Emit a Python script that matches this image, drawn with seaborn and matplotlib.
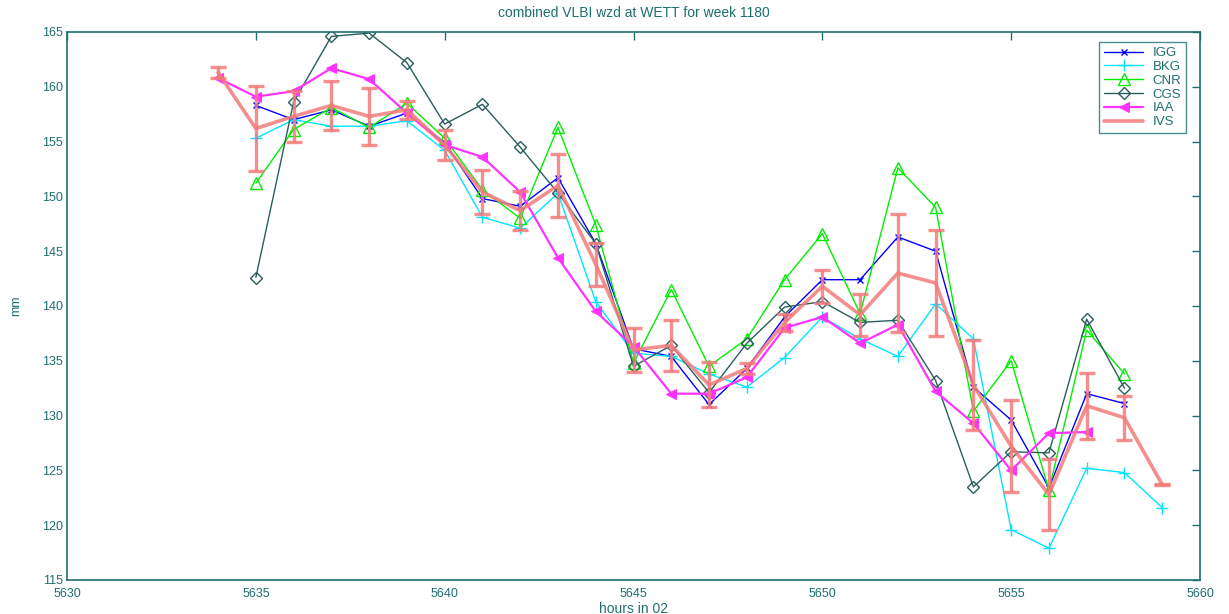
import numpy as np
import pandas as pd
import matplotlib
matplotlib.use("Agg")
import matplotlib.pyplot as plt
import seaborn as sns

# ---------------- data ----------------
hours_ivs = list(range(5634, 5660))
ivs = [161.3, 156.2, 157.3, 158.3, 157.3, 157.9, 154.7, 150.4, 148.7, 151.0,
       143.8, 136.0, 136.4, 132.8, 134.3, 138.5, 141.8, 139.2, 143.0, 142.1,
       132.8, 127.2, 122.8, 130.9, 129.8, 123.7]
ivs_err = [0.5, 3.9, 2.3, 2.2, 2.6, 0.8, 1.4, 2.0, 1.8, 2.9,
           1.95, 2.0, 2.3, 2.05, 0.5, 0.8, 1.5, 1.9, 5.4, 4.8,
           4.1, 4.2, 3.2, 3.0, 2.0, 0.05]

hours_igg = list(range(5635, 5659))
igg = [158.3, 157.0, 157.9, 156.4, 157.6, 154.9, 149.8, 149.1, 151.7, 145.7,
       136.1, 135.4, 131.0, 134.3, 139.0, 142.4, 142.4, 146.3, 145.0, 132.6,
       129.6, 123.4, 132.0, 131.1]

hours_bkg = list(range(5635, 5660))
bkg = [155.3, 157.0, 156.4, 156.4, 156.9, 154.2, 148.1, 147.1, 150.3, 140.4,
       135.7, 135.4, 133.8, 132.6, 135.3, 139.0, 137.0, 135.4, 140.2, 137.0,
       119.6, 117.9, 125.2, 124.8, 121.6]

hours_cnr = list(range(5635, 5659))
cnr = [151.2, 156.1, 158.1, 156.3, 158.5, 155.3, 150.6, 148.0, 156.3, 147.4,
       134.8, 141.5, 134.5, 137.0, 142.4, 146.6, 139.3, 152.6, 149.0, 130.4,
       135.0, 123.2, 137.8, 133.8]

hours_cgs = list(range(5635, 5659))
cgs = [142.6, 158.6, 164.6, 164.9, 162.2, 156.6, 158.4, 154.5, 150.3, 145.7,
       134.5, 136.4, 132.1, 136.6, 139.9, 140.4, 138.5, 138.7, 133.2, 123.5,
       126.7, 126.6, 138.8, 132.5]

hours_iaa = list(range(5634, 5658))
iaa = [160.8, 159.1, 159.6, 161.7, 160.7, 157.6, 154.7, 153.6, 150.4, 144.4,
       139.5, 136.3, 132.0, 132.0, 133.5, 138.0, 139.0, 136.6, 138.3, 132.2,
       129.3, 125.0, 128.4, 128.5]

xticks = [5630, 5635, 5640, 5645, 5650, 5655, 5660]
yticks = [115, 120, 125, 130, 135, 140, 145, 150, 155, 160, 165]

title = "combined VLBI wzd at WETT for week 1180"
xlabel = "hours in 02"
ylabel = "mm"

# ---------------- style ----------------
sns.set_style("white")
plt.rcParams["font.family"] = ["Liberation Sans", "DejaVu Sans"]
axcol = "#1f6f6f"

fig = plt.figure(figsize=(12.29, 6.14), dpi=100)
ax = fig.add_axes([67 / 1229, 34 / 614, 1133 / 1229, 548 / 614])

series = [
    ("IGG", hours_igg, igg, dict(color="#0000ff", marker="x", markersize=5, lw=1.0,
                                 markeredgecolor="#0000ff", markeredgewidth=1.0)),
    ("BKG", hours_bkg, bkg, dict(color="#00e5ff", marker="+", markersize=8, lw=1.0,
                                 markeredgecolor="#00e5ff", markeredgewidth=1.0)),
    ("CNR", hours_cnr, cnr, dict(color="#00ee00", marker="^", markersize=8, lw=1.0,
                                 markerfacecolor="none", markeredgecolor="#00ee00",
                                 markeredgewidth=1.0)),
    ("CGS", hours_cgs, cgs, dict(color="#2a5e5e", marker="D", markersize=6, lw=1.0,
                                 markerfacecolor="none", markeredgecolor="#2a5e5e",
                                 markeredgewidth=1.0)),
    ("IAA", hours_iaa, iaa, dict(color="#ff33ff", marker="<", markersize=7, lw=1.6,
                                 markeredgecolor="#ff33ff")),
]
for name, hx, hy, kw in series:
    sns.lineplot(x=hx, y=hy, ax=ax, label=name, estimator=None, sort=False, **kw)

ivs_col = "#f47a7a"
sns.lineplot(x=hours_ivs, y=ivs, ax=ax, label="IVS", estimator=None, sort=False,
             color=ivs_col, lw=2.6, alpha=0.85)
ax.errorbar(hours_ivs, ivs, yerr=ivs_err, fmt="none", ecolor=ivs_col,
            elinewidth=2.4, capsize=6, capthick=2.4, alpha=0.85)

ax.set_xlim(5630, 5660)
ax.set_ylim(115, 165)
ax.set_xticks(xticks)
ax.set_yticks(yticks)
ax.set_xticklabels([str(t) for t in xticks])
ax.set_yticklabels([str(t) for t in yticks])
ax.tick_params(direction="in", top=True, right=True, length=6, width=1,
               colors=axcol, labelsize=9)
ax.tick_params(axis="x", pad=6)
ax.tick_params(axis="y", pad=3)
for sp in ax.spines.values():
    sp.set_visible(True)
    sp.set_color(axcol)
    sp.set_linewidth(1.2)

ax.set_title(title, fontsize=10, color=axcol, pad=11)
ax.set_xlabel(xlabel, fontsize=10, color=axcol, labelpad=1)
ax.set_ylabel(ylabel, fontsize=9, color=axcol, labelpad=14)

leg = ax.legend(loc="upper right", bbox_to_anchor=(0.99, 0.986), fontsize=9.5,
                frameon=True, fancybox=False, borderpad=0.35, labelspacing=0.12,
                handlelength=3.0, handletextpad=0.7, borderaxespad=0.2)
leg.get_frame().set_edgecolor(axcol)
leg.get_frame().set_linewidth(1.0)
for t in leg.get_texts():
    t.set_color(axcol)

fig.savefig("out.png", dpi=100, facecolor="white")
